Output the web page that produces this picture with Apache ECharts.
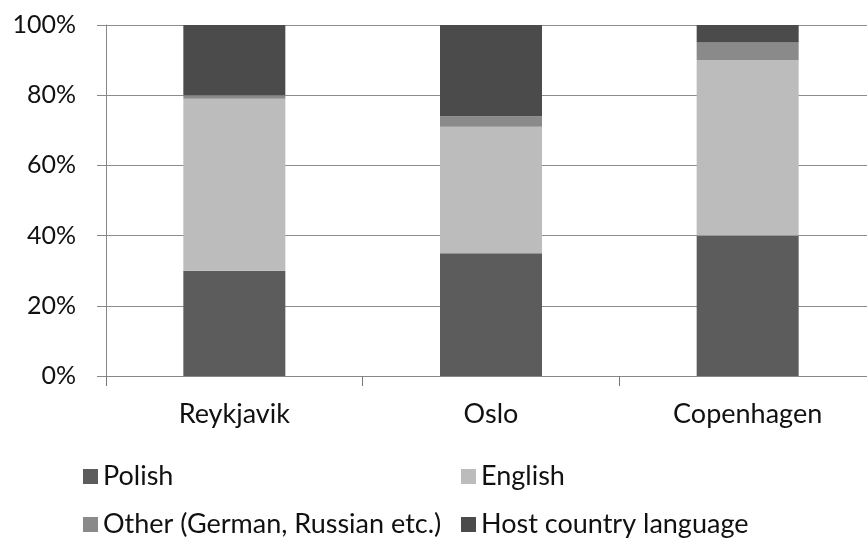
<!DOCTYPE html>
<html lang="en">
<head>
    <meta charset="UTF-8">
    <title>Languages</title>
    <script src="https://cdn.jsdelivr.net/npm/echarts@6/dist/echarts.min.js"></script>
    <style>
        * { margin: 0; padding: 0; }
        html, body { width: 100%; height: 100%; overflow: hidden; background: #fff; }
        /* plot area runs past the right edge of the window, like the original */
        .box { width: 880px; height: 540px; }
    </style>
</head>
<body>
<div class="box"></div>
<script>
    let cities = ['Reykjavik', 'Oslo', 'Copenhagen'];
    let polish = [30, 35, 40];
    let english = [49, 36, 50];
    let other = [1, 3, 5];
    let host = [20, 26, 5];
    let yTicks = [0, 20, 40, 60, 80, 100];

    let names = ['Polish', 'English', 'Other (German, Russian etc.)', 'Host country language'];
    let colors = ['#5c5c5c', '#bcbcbc', '#8a8a8a', '#4b4b4b'];
    let values = [polish, english, other, host];

    let chart = echarts.init(document.querySelector('.box'));
    let font = 'Lato';

    let series = names.map((name, i) => ({
        name: name,
        type: 'bar',
        stack: 'all',
        barWidth: 102,
        data: values[i],
        itemStyle: { color: colors[i] }
    }));

    // Excel style legend: two rows, two columns
    let legendPos = [[83, 463], [461, 463], [83, 511], [461, 511]];
    let legend = names.map((name, i) => ({
        data: [name],
        left: legendPos[i][0],
        top: legendPos[i][1],
        padding: 0,
        itemWidth: 15,
        itemHeight: 15,
        itemGap: 0,
        icon: 'rect',
        selectedMode: false,
        textStyle: { fontFamily: font, fontSize: 27, color: '#111' }
    }));

    chart.setOption({
        animation: false,
        grid: { left: 106, top: 25, bottom: 164, right: 4 },
        legend,
        xAxis: {
            type: 'category',
            data: cities,
            axisLine: { lineStyle: { color: '#888', width: 1 } },
            axisTick: { show: true, length: 10, lineStyle: { color: '#777' } },
            axisLabel: { fontFamily: font, fontSize: 27, color: '#111', margin: 25 }
        },
        yAxis: {
            type: 'value',
            min: yTicks[0],
            max: yTicks[yTicks.length - 1],
            interval: 20,
            axisLine: { show: true, lineStyle: { color: '#888' } },
            axisTick: { show: true, length: 9, lineStyle: { color: '#888' } },
            splitLine: { lineStyle: { color: '#8c8c8c' } },
            axisLabel: {
                fontFamily: font, fontSize: 25, color: '#111', margin: 30,
                formatter: v => v + '%'
            }
        },
        series
    });
</script>
</body>
</html>
